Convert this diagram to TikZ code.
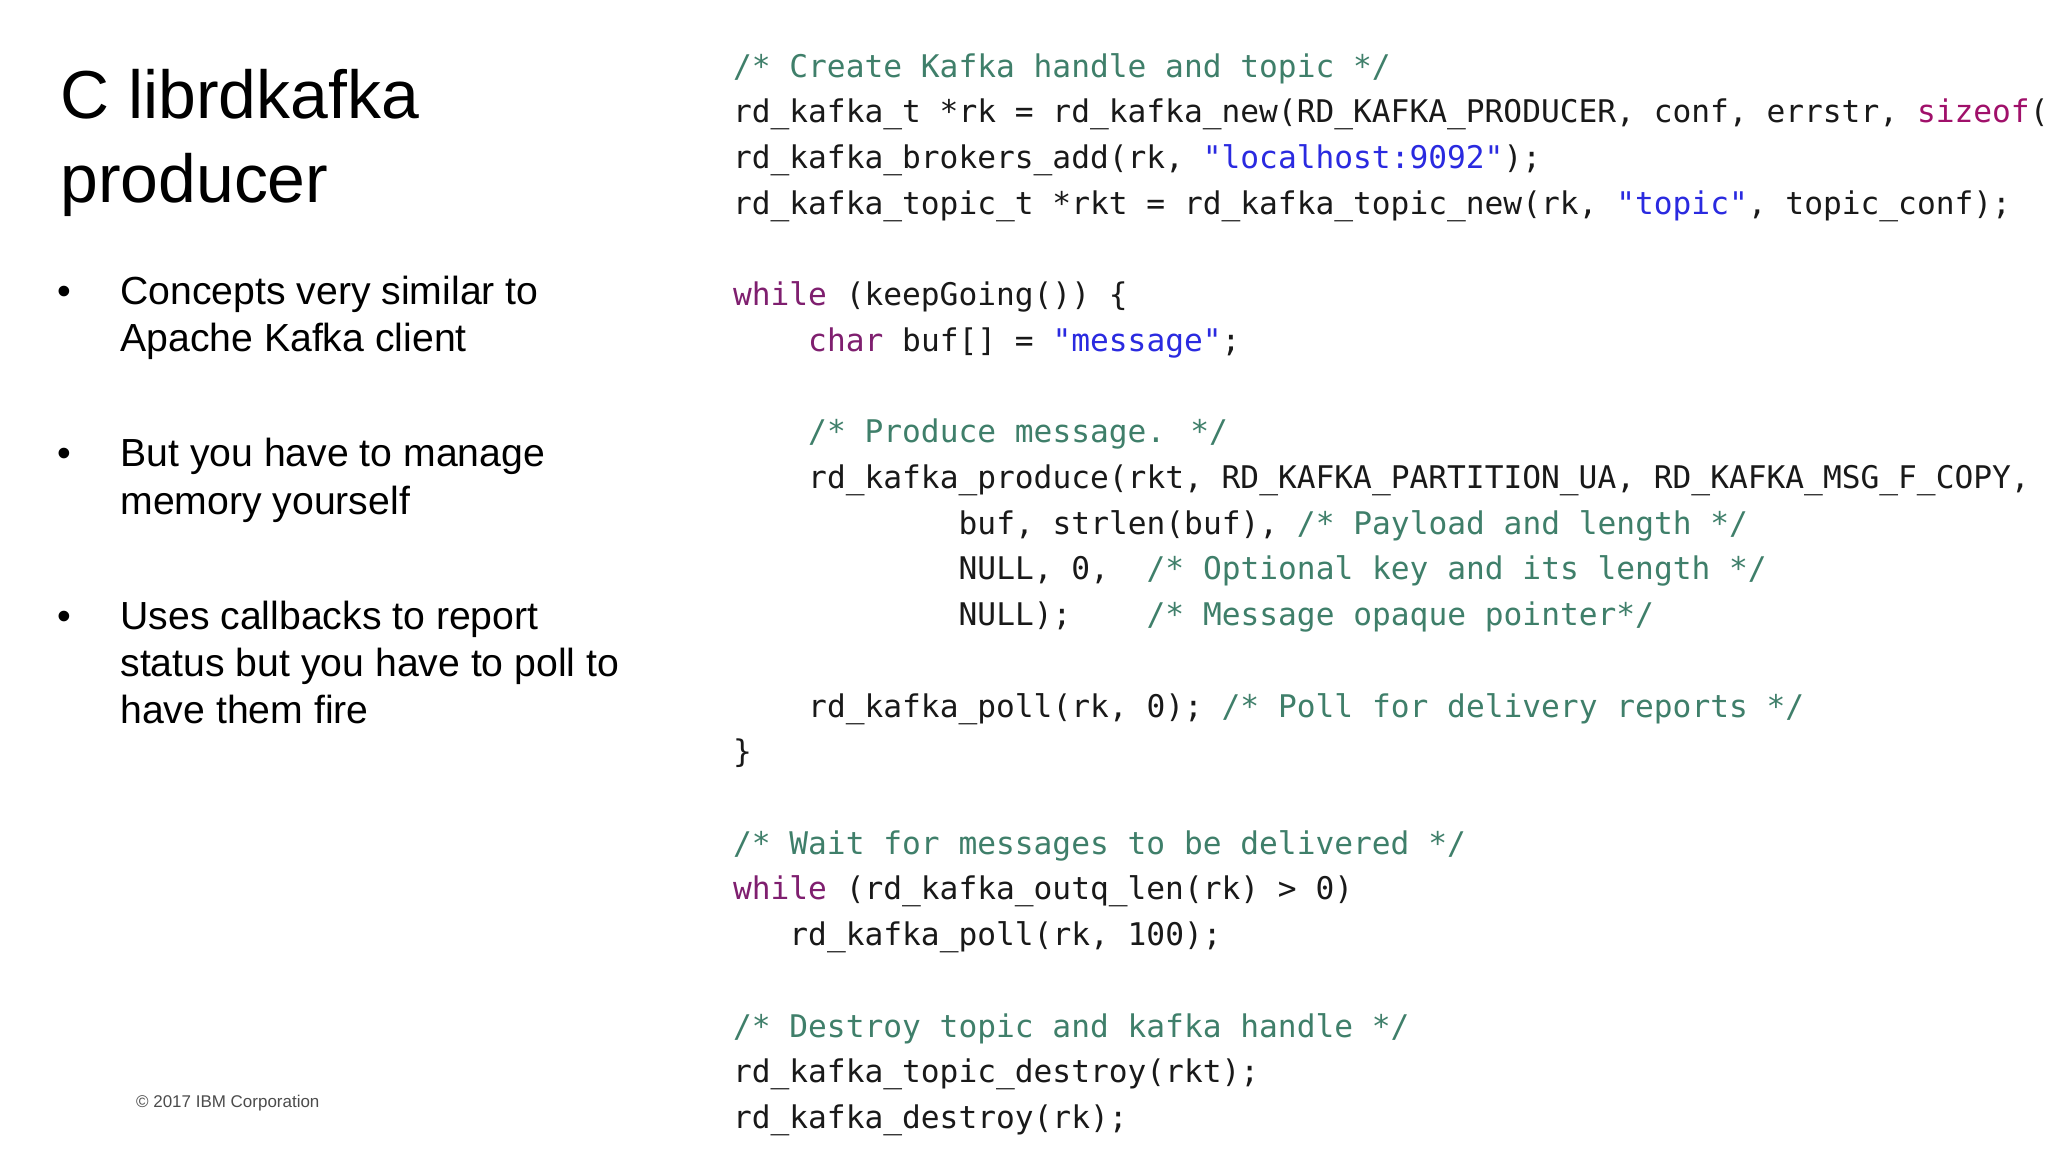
\documentclass[tikz,border=0pt]{standalone}
\usepackage{fontspec}
\setmainfont{Liberation Sans}
\newfontfamily\codefont{DejaVu Sans Mono}
\definecolor{cmt}{HTML}{3F7F6A}
\definecolor{kw}{HTML}{7F1F6F}
\definecolor{kw2}{HTML}{A0106A}
\definecolor{str}{HTML}{2A2AE0}
\newcommand\Cm[1]{\textcolor{cmt}{#1}}
\newcommand\Kw[1]{\textcolor{kw}{#1}}
\newcommand\St[1]{\textcolor{str}{#1}}
\begin{document}
\begin{tikzpicture}[x=1pt,y=-1pt,
  code/.style={anchor=base west,inner sep=0pt,font=\codefont\fontsize{23.9}{28}\selectfont,text=black!90},
  ttl/.style={anchor=base west,inner sep=0pt,font=\fontsize{52}{60}\selectfont},
  bul/.style={anchor=base west,inner sep=0pt,font=\fontsize{30}{36}\selectfont}]
\useasboundingbox[fill=white] (0,0) rectangle (1568,882);
\node[ttl] (t1) at (46,91) {C librdkafka};
\node[ttl] (t2) at (46,155) {producer};
\node[bul] (d1) at (44,233) {•};
\node[bul] (b1a) at (92,233) {Concepts very similar to};
\node[bul] (b1b) at (92,269) {Apache Kafka client};
\node[bul] (d2) at (44,357) {•};
\node[bul] (b2a) at (92,357) {But you have to manage};
\node[bul] (b2b) at (92,394) {memory yourself};
\node[bul] (d3) at (44,482) {•};
\node[bul] (b3a) at (92,482) {Uses callbacks to report};
\node[bul] (b3b) at (92,518) {status but you have to poll to};
\node[bul] (b3c) at (92,554) {have them fire};
\node[anchor=base west,inner sep=0pt,font=\fontsize{13}{15}\selectfont,text=black!70] (copy) at (104,848) {© 2017 IBM Corporation};
\def\cx{561}\def\ch{14.4}
\node[code] (l1) at (\cx,59) {\Cm{/* Create Kafka handle and topic */}};
\node[code] (l2) at (\cx,94) {rd\_kafka\_t *rk = rd\_kafka\_new(RD\_KAFKA\_PRODUCER, conf, errstr, \textcolor{kw2}{sizeof}(};
\node[code] (l3) at (\cx,129) {rd\_kafka\_brokers\_add(rk, \St{"localhost:9092"});};
\node[code] (l4) at (\cx,164) {rd\_kafka\_topic\_t *rkt = rd\_kafka\_topic\_new(rk, \St{"topic"}, topic\_conf);};
\node[code] (l5) at (\cx,234) {\Kw{while} (keepGoing()) \{};
\node[code] (l6) at (\cx+4*\ch,269) {\Kw{char} buf[] = \St{"message"};};
\node[code] (l7) at (\cx+4*\ch,339) {\Cm{/* Produce message. */}};
\node[code] (l8) at (\cx+4*\ch,374) {rd\_kafka\_produce(rkt, RD\_KAFKA\_PARTITION\_UA, RD\_KAFKA\_MSG\_F\_COPY,};
\node[code] (l9) at (\cx+12*\ch,409) {buf, strlen(buf), \Cm{/* Payload and length */}};
\node[code] (l10) at (\cx+12*\ch,444) {NULL, 0,~~\Cm{/* Optional key and its length */}};
\node[code] (l11) at (\cx+12*\ch,479) {NULL);~~~~\Cm{/* Message opaque pointer*/}};
\node[code] (l12) at (\cx+4*\ch,549) {rd\_kafka\_poll(rk, 0); \Cm{/* Poll for delivery reports */}};
\node[code] (l13) at (\cx,584) {\}};
\node[code] (l14) at (\cx,654) {\Cm{/* Wait for messages to be delivered */}};
\node[code] (l15) at (\cx,689) {\Kw{while} (rd\_kafka\_outq\_len(rk) > 0)};
\node[code] (l16) at (\cx+3*\ch,724) {rd\_kafka\_poll(rk, 100);};
\node[code] (l17) at (\cx,794) {\Cm{/* Destroy topic and kafka handle */}};
\node[code] (l18) at (\cx,829) {rd\_kafka\_topic\_destroy(rkt);};
\node[code] (l19) at (\cx,864) {rd\_kafka\_destroy(rk);};
\end{tikzpicture}
\end{document}
